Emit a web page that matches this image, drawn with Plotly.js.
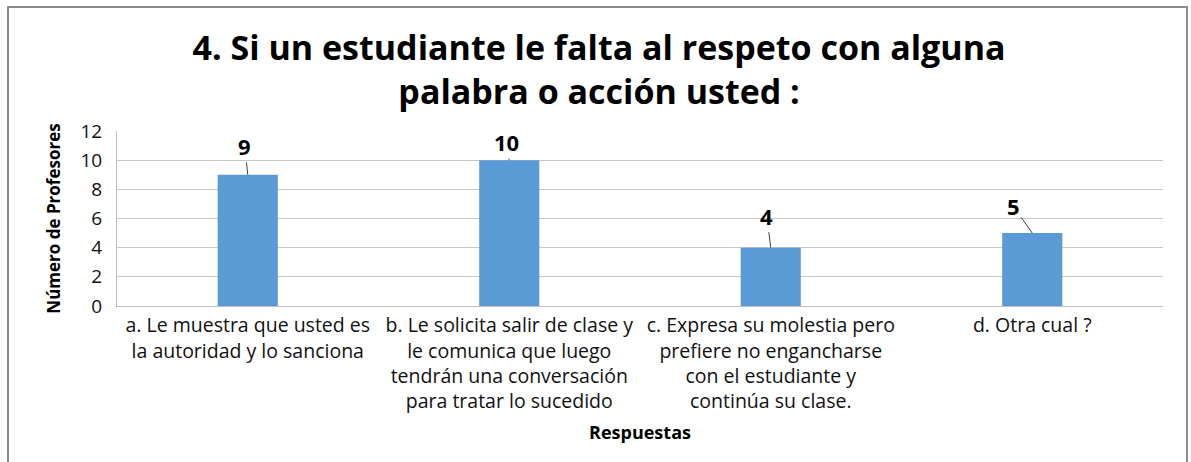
<!DOCTYPE html>
<html>
<head>
<meta charset="utf-8">
<script src="https://cdn.plot.ly/plotly-3.0.1.min.js"></script>
<style>
html,body{margin:0;padding:0;background:#fff;}
#chart{width:1191px;height:462px;}
</style>
</head>
<body>
<div id="chart"></div>
<script>
const categories = [
  "a. Le muestra que usted es<br>la autoridad y lo sanciona",
  "b. Le solicita salir de clase y<br>le comunica que luego<br>tendrán una conversación<br>para tratar lo sucedido",
  "c. Expresa su molestia pero<br>prefiere no engancharse<br>con el estudiante y<br>continúa su clase.",
  "d. Otra cual ?"
];
const values = [9, 10, 4, 5];
const labelOffsetsX = [-3, -3, -4, -19];
const labelOffsetsY = [-29, -18, -32, -27];
const yTicks = [0, 2, 4, 6, 8, 10, 12];

const FONT = "'Open Sans', sans-serif";

const trace = {
  type: 'bar',
  x: categories,
  y: values,
  marker: {color: '#5b9bd5', line: {color: '#5b9bd5', width: 0}},
  hoverinfo: 'skip'
};

const annotations = values.map((v, i) => ({
  x: categories[i], y: v, xref: 'x', yref: 'y',
  text: '<b>' + v + '</b>',
  showarrow: true, arrowhead: 0, arrowwidth: 1, arrowcolor: '#404040',
  ax: labelOffsetsX[i], ay: labelOffsetsY[i], standoff: 0,
  font: {family: FONT, size: 22, color: '#000'}
}));

const layout = {
  width: 1191, height: 462,
  margin: {l: 117, r: 28, t: 131, b: 156},
  paper_bgcolor: '#fff', plot_bgcolor: '#fff',
  bargap: 0.77,
  showlegend: false,
  title: {
    text: '<b>4. Si un estudiante le falta al respeto con alguna<br>palabra o acción usted :</b>',
    font: {family: FONT, size: 34, color: '#000'},
    x: 0.503, xanchor: 'center', y: 0.87, yanchor: 'middle'
  },
  xaxis: {
    type: 'category',
    showgrid: false, showline: true, linecolor: '#bfbfbf', linewidth: 1,
    ticks: '', tickfont: {family: FONT, size: 19.5, color: '#111'},
    tickangle: 0, automargin: false, ticklabelstandoff: 2,
    title: {text: '<b>Respuestas</b>', font: {family: FONT, size: 18, color: '#000'}, standoff: 12}
  },
  yaxis: {
    range: [0, 12], tickvals: yTicks, ticktext: yTicks.map(String),
    showgrid: true, gridcolor: '#c8c8c8', gridwidth: 1,
    zeroline: false, showline: true, linecolor: '#bfbfbf', linewidth: 1,
    ticks: '', ticklen: 0, tickfont: {family: FONT, size: 19, color: '#111'},
    automargin: false, ticklabelstandoff: 10,
    title: {text: '<b>Número de Profesores</b>', font: {family: FONT, size: 17, color: '#000'}, standoff: 15}
  },
  annotations: annotations,
  shapes: [{
    type: 'rect', xref: 'paper', yref: 'paper', layer: 'below',
    x0: -0.1042, x1: 1.0229, y0: -0.95, y1: 1.7086,
    line: {color: '#8c8c8c', width: 2}, fillcolor: 'rgba(0,0,0,0)'
  }]
};

Plotly.newPlot('chart', [trace], layout, {displayModeBar: false, staticPlot: true});
</script>
</body>
</html>
